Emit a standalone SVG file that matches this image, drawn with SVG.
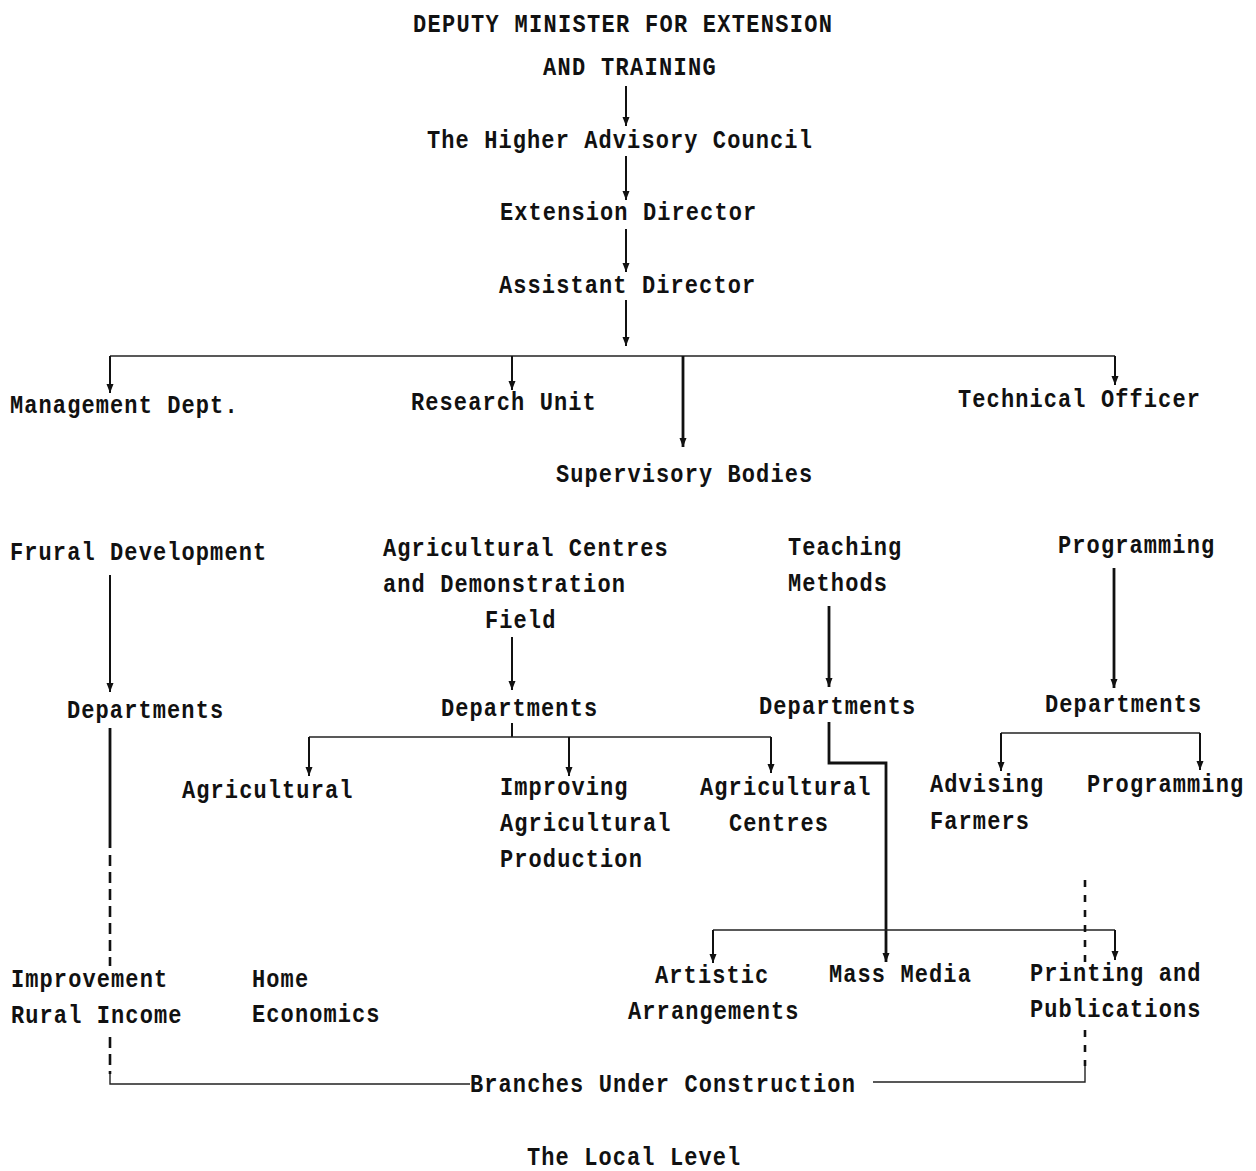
<svg xmlns="http://www.w3.org/2000/svg" width="1256" height="1171" viewBox="0 0 1256 1171">
  <style>
    .lbl, .ttl { font-family: "Liberation Mono", "DejaVu Sans Mono", monospace; font-size: 22px; font-weight: bold; fill: #111;
                 transform-box: fill-box; transform-origin: 0 74%; transform: scaleY(1.18); }
    .lbl { letter-spacing: 1.1px; }
    .ttl { letter-spacing: 1.3px; }
    .ln { fill: none; stroke: #111; stroke-width: 2; }
    .thin { fill: none; stroke: #222; stroke-width: 1.4; }
    .thick { fill: none; stroke: #111; stroke-width: 2.8; }
    .dash { fill: none; stroke: #111; stroke-width: 2.6; stroke-dasharray: 11 6; }
    .dot { fill: none; stroke: #111; stroke-width: 2.6; stroke-dasharray: 7 8; }
  </style>
  <defs>
    <marker id="ah" markerUnits="userSpaceOnUse" markerWidth="10" markerHeight="10" refX="9" refY="4" orient="auto">
      <path d="M0,0.5 L9,4 L0,7.5 Z" fill="#111"/>
    </marker>
  </defs>
  <rect width="1256" height="1171" fill="#fff"/>

  <!-- connectors -->
  <g id="connectors">
    <path class="ln" d="M626,86 V126" marker-end="url(#ah)"/>
    <path class="ln" d="M626,156 V200" marker-end="url(#ah)"/>
    <path class="ln" d="M626,229 V272" marker-end="url(#ah)"/>
    <path class="ln" d="M626,300 V346" marker-end="url(#ah)"/>
    <path class="thin" d="M110,356 H1115"/>
    <path class="ln" d="M110,356 V393" marker-end="url(#ah)"/>
    <path class="ln" d="M512,356 V390" marker-end="url(#ah)"/>
    <path class="thick" d="M683,356 V447" marker-end="url(#ah)"/>
    <path class="ln" d="M1115,356 V385" marker-end="url(#ah)"/>

    <path class="ln" d="M110,575 V692" marker-end="url(#ah)"/>
    <path class="ln" d="M512,637 V690" marker-end="url(#ah)"/>
    <path class="thick" d="M829,606 V687" marker-end="url(#ah)"/>
    <path class="thick" d="M1114,568 V688" marker-end="url(#ah)"/>

    <path class="ln" d="M512,723 V737"/>
    <path class="thin" d="M309,737 H771"/>
    <path class="ln" d="M309,737 V776" marker-end="url(#ah)"/>
    <path class="ln" d="M569,737 V776" marker-end="url(#ah)"/>
    <path class="ln" d="M771,737 V773" marker-end="url(#ah)"/>

    <path class="thin" d="M1001,733 H1200"/>
    <path class="ln" d="M1001,733 V771" marker-end="url(#ah)"/>
    <path class="ln" d="M1200,733 V770" marker-end="url(#ah)"/>

    <path class="thick" d="M829,722 V763 H886 V962" marker-end="url(#ah)"/>
    <path class="thin" d="M713,930 H1115"/>
    <path class="ln" d="M713,930 V963" marker-end="url(#ah)"/>
    <path class="ln" d="M1115,930 V960" marker-end="url(#ah)"/>

    <path class="thick" d="M110,728 V848"/>
    <path class="dash" d="M110,855 V966"/>
    <path class="dash" d="M110,1037 V1074"/>
    <path class="thin" d="M110,1074 V1084 H470"/>
    <path class="thin" d="M873,1082 H1085 V1066"/>
    <path class="dot" d="M1085,1030 V1066"/>
    <path class="dot" d="M1085,880 V965"/>
  </g>

  <!-- top of hierarchy -->
  <g id="deputy-minister">
    <text class="ttl" x="413" y="32">DEPUTY MINISTER FOR EXTENSION</text>
    <text class="ttl" x="543" y="75">AND TRAINING</text>
  </g>
  <g id="higher-advisory-council"><text class="lbl" x="427" y="148">The Higher Advisory Council</text></g>
  <g id="extension-director"><text class="lbl" x="500" y="220">Extension Director</text></g>
  <g id="assistant-director"><text class="lbl" x="499" y="293">Assistant Director</text></g>

  <!-- units under the assistant director -->
  <g id="management-dept"><text class="lbl" x="10" y="413">Management Dept.</text></g>
  <g id="research-unit"><text class="lbl" x="411" y="410">Research Unit</text></g>
  <g id="technical-officer"><text class="lbl" x="958" y="407">Technical Officer</text></g>
  <g id="supervisory-bodies"><text class="lbl" x="556" y="482">Supervisory Bodies</text></g>

  <!-- supervisory branches -->
  <g id="frural-development"><text class="lbl" x="10" y="560">Frural Development</text></g>
  <g id="departments-1"><text class="lbl" x="67" y="718">Departments</text></g>

  <g id="agricultural-centres-field">
    <text class="lbl" x="383" y="556">Agricultural Centres</text>
    <text class="lbl" x="383" y="592">and Demonstration</text>
    <text class="lbl" x="485" y="628">Field</text>
  </g>
  <g id="departments-2"><text class="lbl" x="441" y="716">Departments</text></g>

  <g id="teaching-methods">
    <text class="lbl" x="788" y="555">Teaching</text>
    <text class="lbl" x="788" y="591">Methods</text>
  </g>
  <g id="departments-3"><text class="lbl" x="759" y="714">Departments</text></g>

  <g id="programming-top"><text class="lbl" x="1058" y="553">Programming</text></g>
  <g id="departments-4"><text class="lbl" x="1045" y="712">Departments</text></g>

  <!-- departments -->
  <g id="agricultural"><text class="lbl" x="182" y="798">Agricultural</text></g>
  <g id="improving-production">
    <text class="lbl" x="500" y="795">Improving</text>
    <text class="lbl" x="500" y="831">Agricultural</text>
    <text class="lbl" x="500" y="867">Production</text>
  </g>
  <g id="agricultural-centres">
    <text class="lbl" x="700" y="795">Agricultural</text>
    <text class="lbl" x="729" y="831">Centres</text>
  </g>
  <g id="advising-farmers">
    <text class="lbl" x="930" y="792">Advising</text>
    <text class="lbl" x="930" y="829">Farmers</text>
  </g>
  <g id="programming"><text class="lbl" x="1087" y="792">Programming</text></g>

  <g id="improvement-rural-income">
    <text class="lbl" x="11" y="987">Improvement</text>
    <text class="lbl" x="11" y="1023">Rural Income</text>
  </g>
  <g id="home-economics">
    <text class="lbl" x="252" y="987">Home</text>
    <text class="lbl" x="252" y="1022">Economics</text>
  </g>
  <g id="artistic-arrangements">
    <text class="lbl" x="655" y="983">Artistic</text>
    <text class="lbl" x="628" y="1019">Arrangements</text>
  </g>
  <g id="mass-media"><text class="lbl" x="829" y="982">Mass Media</text></g>
  <g id="printing-publications">
    <text class="lbl" x="1030" y="981">Printing and</text>
    <text class="lbl" x="1030" y="1017">Publications</text>
  </g>

  <g id="branches-under-construction"><text class="lbl" x="470" y="1092">Branches Under Construction</text></g>
  <g id="local-level"><text class="lbl" x="527" y="1165">The Local Level</text></g>
</svg>
